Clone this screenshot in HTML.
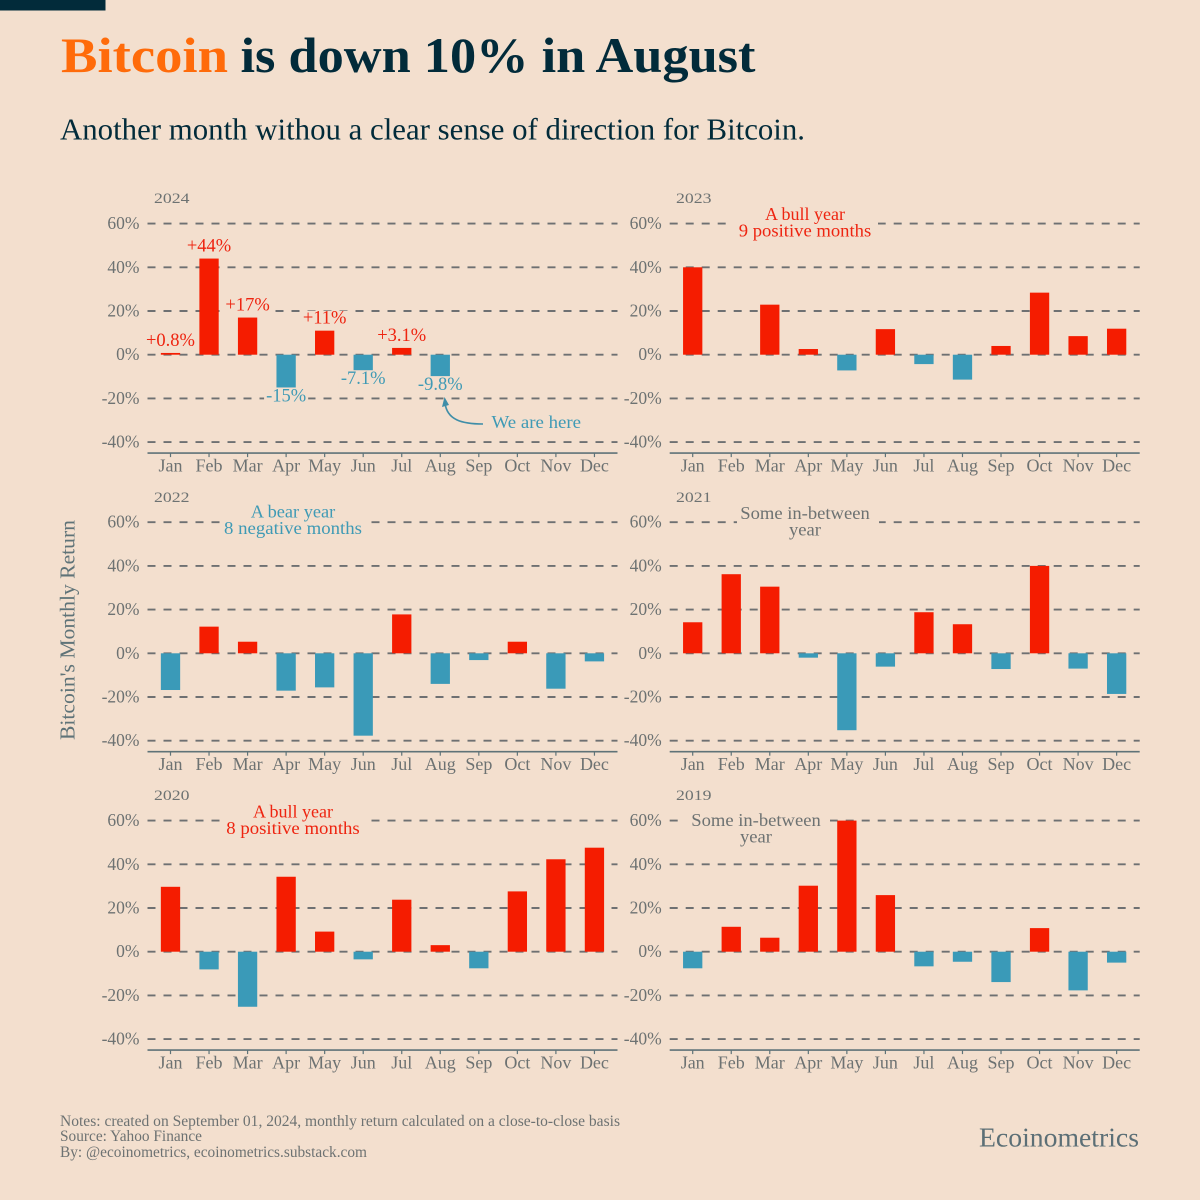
<!DOCTYPE html>
<html lang="en">
<head>
<meta charset="utf-8">
<title>Bitcoin is down 10% in August</title>
<style>
html,body{margin:0;padding:0;background:#f3dfce;}
svg{display:block;font-family:"Liberation Serif",serif;}
</style>
</head>
<body>
<svg id="chart" xmlns="http://www.w3.org/2000/svg" width="1200" height="1200" viewBox="0 0 1200 1200">
  <rect x="0" y="0" width="1200" height="1200" fill="#f3dfce"/>
  <rect x="0" y="0" width="105.500" height="10.500" fill="#022b3a"/>
  <text x="61" y="72" font-size="50" font-weight="700" fill="#ff6b0a" textLength="167" lengthAdjust="spacingAndGlyphs">Bitcoin</text>
  <text x="240.500" y="72" font-size="50" font-weight="700" fill="#022b3a" textLength="515" lengthAdjust="spacingAndGlyphs">is down 10% in August</text>
  <text x="60" y="139.500" font-size="31" fill="#022b3a" textLength="745" lengthAdjust="spacingAndGlyphs">Another month withou a clear sense of direction for Bitcoin.</text>
  <text transform="translate(74.500,740) rotate(-90)" font-size="21" fill="#5f7378" textLength="220" lengthAdjust="spacingAndGlyphs">Bitcoin's Monthly Return</text>
  <g id="panels"></g>
  <path d="M483 424 C 462 424 447 420 445 403" fill="none" stroke="#3f8ea8" stroke-width="1.600"/>
  <polygon points="444.500,397 442,407 449,405" fill="#3f8ea8"/>
  <text x="491.500" y="428" font-size="18" fill="#3f9ab5" textLength="89.500" lengthAdjust="spacingAndGlyphs">We are here</text>
  <text x="60" y="1126" font-size="15.500" fill="#6d7272" textLength="560" lengthAdjust="spacingAndGlyphs">Notes: created on September 01, 2024, monthly return calculated on a close-to-close basis</text>
  <text x="60" y="1141" font-size="15.500" fill="#6d7272" textLength="142" lengthAdjust="spacingAndGlyphs">Source: Yahoo Finance</text>
  <text x="60" y="1157" font-size="15.500" fill="#6d7272" textLength="307" lengthAdjust="spacingAndGlyphs">By: @ecoinometrics, ecoinometrics.substack.com</text>
  <text x="979" y="1146.500" font-size="27" fill="#5c6f76" textLength="160" lengthAdjust="spacingAndGlyphs">Ecoinometrics</text>
</svg>
<script>
const months = ["Jan","Feb","Mar","Apr","May","Jun","Jul","Aug","Sep","Oct","Nov","Dec"];
const yTicks = [60,40,20,0,-20,-40];
const values2024 = [0.8,44,17,-15,11,-7.1,3.1,-9.8];
const labels2024 = ["+0.8%","+44%","+17%","-15%","+11%","-7.1%","+3.1%","-9.8%"];
const values2023 = [40,0,22.9,2.6,-7.2,11.7,-4.3,-11.4,4,28.4,8.5,11.9];
const values2022 = [-16.8,12.2,5.3,-17.1,-15.6,-37.7,17.8,-14,-3.1,5.3,-16.2,-3.7];
const values2021 = [14.2,36.2,30.5,-2,-35.2,-6.1,18.8,13.3,-7.2,40,-7,-18.6];
const values2020 = [29.7,-8.1,-25.2,34.3,9.2,-3.5,23.8,3,-7.6,27.6,42.3,47.6];
const values2019 = [-7.6,11.4,6.4,30.2,60,25.9,-6.7,-4.6,-13.9,10.8,-17.7,-5];

const NS = "http://www.w3.org/2000/svg";
const RED = "#f51c00", BLUE = "#3a9ab8";
const TXT_RED = "#ee2410", TXT_BLUE = "#3f9ab5", GRAY = "#6d7272", GRID = "#6e7072", AXIS = "#5f7378";
const PX_PER_PCT = 2.185, STEP = 38.54, BAR_W = 19.3, PLOT_W = 470;
const root = document.getElementById("panels");

function mk(parent, tag, attrs, content) {
  const e = document.createElementNS(NS, tag);
  for (const k in attrs) e.setAttribute(k, attrs[k]);
  if (content !== undefined) e.textContent = content;
  parent.appendChild(e);
  return e;
}
function xScale(left, i) { return left + 23 + i * STEP; }
function yScale(zero, v) { return zero - v * PX_PER_PCT; }

function drawPanel(year, values, left, zero, yearX, note, labels) {
  const g = mk(root, "g", {});
  
  

  yTicks.forEach(function (t) {
    const y = yScale(zero, t);
    const line = mk(g, "line", {x1: left, x2: left + PLOT_W, y1: y, y2: y, stroke: GRID, "stroke-width": 1.9, "stroke-dasharray": "8 8"});
    
    
    const lab = mk(g, "text", {x: left - 8, y: y + 5.5, "font-size": 17.5, fill: GRAY, "text-anchor": "end"}, t + "%");
    
    
  });

  const y1 = mk(g, "text", {x: yearX, y: zero - 151.5, "font-size": 14.5, fill: GRAY, textLength: 35.5, lengthAdjust: "spacingAndGlyphs"}, String(year));
  
  

  const haloLayer = mk(g, "g", {});
  
  

  values.forEach(function (v, i) {
    const cx = xScale(left, i);
    const yv = yScale(zero, v), y0 = yScale(zero, 0);
    const bar = mk(g, "rect", {x: cx - BAR_W / 2, y: Math.min(yv, y0), width: BAR_W, height: Math.abs(yv - y0), fill: v >= 0 ? RED : BLUE});
    
    
  });

  const axisY = zero + 98.4;
  const axis = mk(g, "line", {x1: left, x2: left + PLOT_W, y1: axisY, y2: axisY, stroke: AXIS, "stroke-width": 1.6});
  
  

  months.forEach(function (m, i) {
    const cx = xScale(left, i);
    const tick = mk(g, "line", {x1: cx, x2: cx, y1: axisY, y2: axisY + 4, stroke: AXIS, "stroke-width": 1.2});
    
    
    const lab = mk(g, "text", {x: cx, y: axisY + 18.5, "font-size": 18, fill: GRAY, "text-anchor": "middle"}, m);
    
    
  });

  if (labels) {
    labels.forEach(function (s, i) {
      const v = values[i];
      const cx = xScale(left, i);
      const yy = v >= 0 ? yScale(zero, v) - 7 : yScale(zero, v) + 14;
      const t = mk(g, "text", {x: cx, y: yy, "font-size": 18.5, fill: v >= 0 ? TXT_RED : TXT_BLUE, "text-anchor": "middle"}, s);
      
      
      const b = t.getBBox();
      const r = mk(haloLayer, "rect", {x: b.x - 2, y: b.y + 2, width: b.width + 4, height: b.height - 3, fill: "#f3dfce"});
      
      
    });
  }

  if (note) {
    const nb = mk(haloLayer, "rect", {x: note.gapL, y: zero - 150, width: note.gapR - note.gapL, height: 36, fill: "#f3dfce"});
    
    
    const a = mk(g, "text", {x: note.cx, y: note.y1, "font-size": 18, fill: note.color, "text-anchor": "middle", textLength: note.w1, lengthAdjust: "spacingAndGlyphs"}, note.l1);
    
    
    const c = mk(g, "text", {x: note.cx, y: note.y1 + 16.7, "font-size": 18, fill: note.color, "text-anchor": "middle", textLength: note.w2, lengthAdjust: "spacingAndGlyphs"}, note.l2);
    
    
  }
}

drawPanel(2024, values2024, 147.5, 354.7, 154, null, labels2024);
drawPanel(2023, values2023, 669.7, 354.7, 676, {cx: 805, y1: 220, l1: "A bull year", l2: "9 positive months", w1: 80, w2: 132.5, color: TXT_RED, gapL: 727, gapR: 878});
drawPanel(2022, values2022, 147.5, 653.3, 154, {cx: 293, y1: 517.3, l1: "A bear year", l2: "8 negative months", w1: 84.5, w2: 138, color: TXT_BLUE, gapL: 221, gapR: 371});
drawPanel(2021, values2021, 669.7, 653.3, 676, {cx: 805, y1: 519, l1: "Some in-between", l2: "year", w1: 129.5, w2: 32, color: GRAY, gapL: 737, gapR: 879});
drawPanel(2020, values2020, 147.5, 951.7, 154, {cx: 293, y1: 817.3, l1: "A bull year", l2: "8 positive months", w1: 80, w2: 133.5, color: TXT_RED, gapL: 221, gapR: 371});
drawPanel(2019, values2019, 669.7, 951.7, 676, {cx: 756, y1: 826, l1: "Some in-between", l2: "year", w1: 129.5, w2: 32, color: GRAY, gapL: 678, gapR: 830});
</script>
</body>
</html>
